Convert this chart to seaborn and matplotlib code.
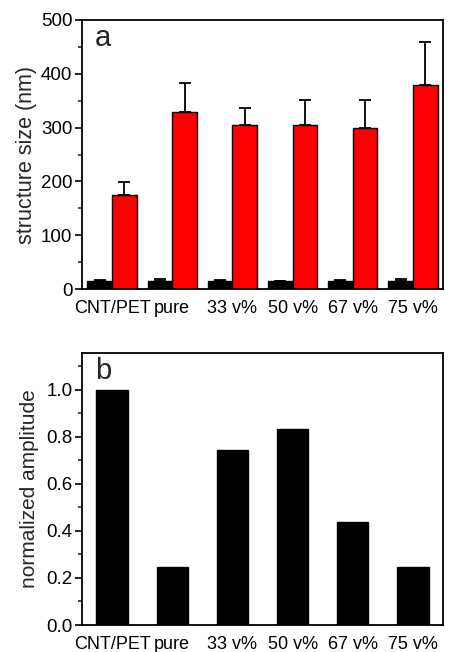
import numpy as np
import pandas as pd
import matplotlib
matplotlib.use("Agg")
import matplotlib.pyplot as plt
import seaborn as sns
from matplotlib.ticker import MultipleLocator

sns.set_theme(style="ticks")
plt.rcParams['font.family'] = ['Liberation Sans', 'DejaVu Sans']

categories = ["CNT/PET", "pure", "33 v%", "50 v%", "67 v%", "75 v%"]
small_size = [14, 15, 14, 14, 14, 15]
small_err = [2, 3, 2, 1.5, 2, 3]
large_size = [174, 329, 305, 305, 299, 379]
large_err = [25, 54, 32, 46, 52, 80]
amplitude = [1.0, 0.245, 0.745, 0.832, 0.436, 0.245]

df_a = pd.DataFrame({
    "cat": categories * 2,
    "size": small_size + large_size,
    "err": small_err + large_err,
    "kind": ["small"] * 6 + ["large"] * 6,
})
df_b = pd.DataFrame({"cat": categories, "amp": amplitude})

fig = plt.figure(figsize=(4.53, 6.52), dpi=100)
ax1 = fig.add_axes([82/453, 1-289/652, 361/453, 269/652])
ax2 = fig.add_axes([82/453, 1-625/652, 361/453, 272/652])

sns.barplot(data=df_a, x="cat", y="size", hue="kind", palette=["black", "#ff0000"],
            width=0.82, errorbar=None, edgecolor="black", linewidth=1.0,
            legend=False, ax=ax1, saturation=1)
# error bars (upper only)
patches = [p for p in ax1.patches if p.get_height() > 0]
errs = small_err + large_err
for p, e in zip(patches, errs):
    xc = p.get_x() + p.get_width() / 2
    h = p.get_height()
    ax1.errorbar([xc], [h], yerr=[[0], [e]], fmt="none", ecolor="black",
                 elinewidth=1.3, capsize=4, capthick=1.3)

ax1.set_ylim(0, 500)
ax1.set_xlim(-0.5, 5.5)
ax1.set_ylabel("structure size (nm)", fontsize=15.5, labelpad=3)
ax1.set_xlabel("")
ax1.yaxis.set_major_locator(MultipleLocator(100))
ax1.yaxis.set_minor_locator(MultipleLocator(50))
ax1.text(0.035, 0.985, "a", transform=ax1.transAxes, fontsize=21, va="top", ha="left")

sns.barplot(data=df_b, x="cat", y="amp", color="black", width=0.52,
            errorbar=None, edgecolor="black", linewidth=1.0, ax=ax2, saturation=1)
ax2.set_ylim(0, 1.155)
ax2.set_xlim(-0.5, 5.5)
ax2.set_ylabel("normalized amplitude", fontsize=15, labelpad=5)
ax2.set_xlabel("")
ax2.yaxis.set_major_locator(MultipleLocator(0.2))
ax2.yaxis.set_minor_locator(MultipleLocator(0.1))
ax2.yaxis.set_major_formatter(matplotlib.ticker.FormatStrFormatter("%.1f"))
ax2.text(0.035, 0.985, "b", transform=ax2.transAxes, fontsize=21, va="top", ha="left")

for ax in (ax1, ax2):
    for s in ax.spines.values():
        s.set_visible(True)
        s.set_linewidth(1.3)
        s.set_color("black")
    ax.tick_params(axis="y", which="major", direction="out", length=5, width=1.2,
                   labelsize=13.5, pad=2, colors="black")
    ax.tick_params(axis="y", which="minor", direction="out", length=3, width=1.2)
    ax.tick_params(axis="x", length=0, labelsize=13, pad=8, colors="black")

fig.savefig("out.png", dpi=100)
